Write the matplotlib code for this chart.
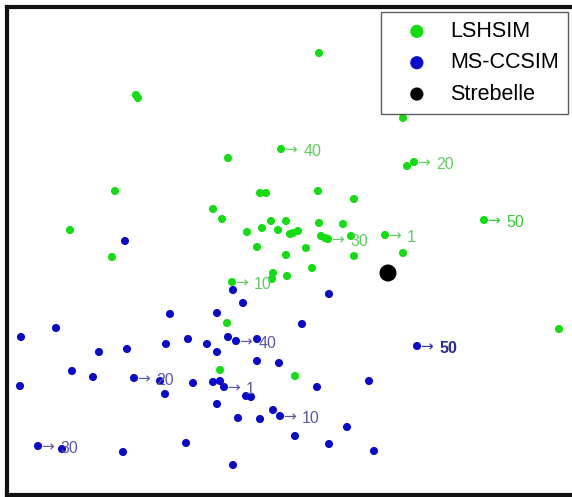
import numpy as np
import matplotlib
matplotlib.use("Agg")
import matplotlib.pyplot as plt

plt.rcParams['font.family'] = ['Liberation Sans', 'DejaVu Sans']

# point positions (screen-like units, y grows downward)
lsh_x = [136, 138, 319, 403, 407, 414, 281, 228, 115, 260, 266, 318, 354,
         213, 222, 70, 484, 247, 262, 271, 278, 286, 290, 293, 298, 319,
         321, 325, 328, 343, 351, 385, 257, 306, 403, 286, 354, 112, 312,
         273, 272, 287, 232, 227, 559, 220, 295]
lsh_y = [95, 98, 53, 118, 166, 162, 149, 158, 191, 193, 193, 191, 199,
         209, 219, 230, 220, 232, 228, 221, 230, 221, 234, 233, 231, 223,
         236, 238, 239, 224, 236, 235, 247, 248, 253, 255, 256, 257, 268,
         273, 279, 276, 282, 323, 329, 370, 376]

ms_x = [125, 233, 329, 243, 170, 217, 302, 56, 21, 188, 228, 236, 257,
        99, 127, 166, 207, 217, 257, 279, 417, 72, 93, 20, 134, 160, 165,
        193, 213, 220, 224, 246, 251, 217, 317, 369, 238, 260, 273, 280,
        347, 295, 329, 374, 38, 62, 123, 186, 233]
ms_y = [241, 290, 294, 303, 314, 313, 324, 328, 337, 339, 337, 341, 339,
        352, 349, 344, 344, 352, 361, 363, 346, 371, 377, 386, 378, 381, 394,
        383, 382, 381, 387, 396, 397, 404, 387, 381, 418, 419, 410, 416,
        427, 436, 444, 451, 446, 449, 452, 443, 465]

streb_x = [388]
streb_y = [273]

# iteration tags: (x, y, text)
lsh_tags = [(281, 149, "40"), (414, 162, "20"), (328, 239, "30"),
            (385, 235, "1"), (232, 282, "10"), (484, 220, "50")]
ms_tags = [(236, 341, "40"), (134, 378, "20"), (224, 387, "1"),
           (280, 416, "10"), (38, 446, "30"), (417, 346, "50")]

green = "#11dd11"
blue = "#0a0acc"

fig = plt.figure(figsize=(5.72, 4.97), dpi=100)
ax = fig.add_axes([7 / 572, 2 / 497, 575 / 572, 488 / 497])
ax.set_xlim(7, 582)
ax.set_ylim(495, 7)

ax.scatter(lsh_x, lsh_y, s=34, color=green, edgecolors="none", label="LSHSIM", zorder=3)
ax.scatter(ms_x, ms_y, s=34, color=blue, edgecolors="none", label="MS-CCSIM", zorder=3)
ax.scatter(streb_x, streb_y, s=150, color="black", edgecolors="none", label="Strebelle", zorder=4)


def tag(x, y, t, c, bold=False):
    # thin arrow then the iteration number
    ax.annotate("\u2192", (x, y), xytext=(2, -0.8), textcoords="offset points",
                ha="left", va="center", fontsize=11, color=c, zorder=5,
                family="DejaVu Sans")
    ax.annotate(t, (x, y), xytext=(16, -1.5), textcoords="offset points",
                ha="left", va="center", fontsize=11.5, color=c, zorder=5,
                fontweight="bold" if bold else "normal")


for x, y, t in lsh_tags:
    tag(x, y, t, "#33cc33" if t == "50" else "#60cc60")
for x, y, t in ms_tags:
    tag(x, y, t, "#2a2aa0" if t == "50" else "#5a5aa5", bold=(t == "50"))

ax.set_xticks([])
ax.set_yticks([])
for sp in ax.spines.values():
    sp.set_linewidth(3)
    sp.set_color("#111111")

leg = ax.legend(loc="upper right", bbox_to_anchor=(568 / 572, 1 - 12 / 497),
                bbox_transform=fig.transFigure,
                fontsize=15.5, frameon=True, fancybox=False,
                borderpad=0.42, handletextpad=0.3, labelspacing=0.48,
                handlelength=2.5, borderaxespad=0)
for h in leg.legend_handles:
    h.set_sizes([90])
leg.get_frame().set_edgecolor("#333333")
leg.get_frame().set_linewidth(1.0)

fig.savefig("out.png", dpi=100)
